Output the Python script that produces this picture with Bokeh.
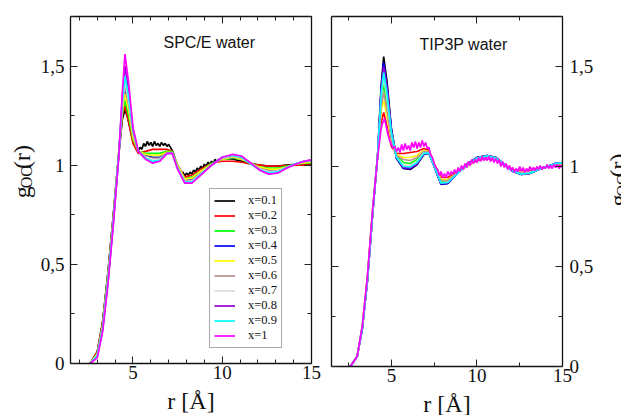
import math
from bokeh.plotting import figure
from bokeh.models import LinearAxis, FixedTicker, Range1d, Label, CustomJSTickFormatter
from bokeh.core.properties import value
from bokeh.layouts import row
from bokeh.embed import file_html
from bokeh.resources import INLINE

# ---------------- data ----------------
r_grid = [2.6, 3.0, 3.3, 3.6, 3.9, 4.2, 4.4, 4.55, 4.75, 5.0, 5.3, 5.7, 6.1, 6.5, 6.9, 7.2,
          7.5, 7.9, 8.3, 8.8, 9.4, 10.0, 10.6, 11.1, 11.6, 12.1, 12.6, 13.1, 13.6, 14.1, 14.6, 15.0]

series_labels = ["x=0.1", "x=0.2", "x=0.3", "x=0.4", "x=0.5", "x=0.6", "x=0.7", "x=0.8", "x=0.9", "x=1"]
series_colors = ["#000000", "#ff0000", "#00ff00", "#0000ff", "#ffff00", "#bc8f8f", "#dcdcdc", "#9400d3", "#00ffff", "#ff00ff"]

# SPC/E water  g_OO(r)   (x=0.1 is noisy, read on a finer r grid)
spce_x01_r = [2.6, 3.0, 3.3, 3.6, 3.9, 4.2, 4.4, 4.55, 4.7, 4.8,
              4.9, 5.0, 5.1, 5.2, 5.3, 5.4, 5.5, 5.6, 5.7, 5.8, 5.9, 6.0, 6.1, 6.2, 6.3, 6.4, 6.5,
              6.6, 6.7, 6.8, 6.9, 7.0, 7.1, 7.2, 7.3, 7.4, 7.5, 7.6, 7.7, 7.8, 7.9, 8.0, 8.1, 8.2,
              8.3, 8.4, 8.5, 8.6, 8.7, 8.8, 8.9, 9.0, 9.1, 9.2, 9.3, 9.4, 9.5, 9.6, 9.7, 9.8, 9.9,
              10.0, 10.6, 11.1, 11.6, 12.1, 12.6, 13.1, 13.6, 14.1, 14.6, 15.0]
spce_x01 = [0, 0.06, 0.21, 0.46, 0.75, 1.05, 1.23, 1.28, 1.24, 1.20,
            1.16, 1.13, 1.10, 1.08, 1.075, 1.09, 1.08, 1.11, 1.095, 1.12, 1.10, 1.115, 1.095, 1.12, 1.10, 1.11, 1.095,
            1.115, 1.10, 1.11, 1.095, 1.105, 1.09, 1.075, 1.05, 1.02, 1.0, 0.985, 0.96, 0.965, 0.945, 0.96, 0.95, 0.965,
            0.955, 0.975, 0.965, 0.985, 0.975, 0.995, 0.985, 1.005, 0.995, 1.015, 1.005, 1.02, 1.01, 1.03, 1.015, 1.03, 1.02,
            1.035, 1.03, 1.02, 1.01, 1.0, 0.995, 0.995, 1.0, 1.005, 1.005, 1.005]
spce_x02 = [0, 0.06, 0.21, 0.46, 0.75, 1.06, 1.25, 1.30, 1.22, 1.11, 1.06, 1.07, 1.08, 1.08, 1.08, 1.07,
            1.0, 0.94, 0.95, 0.98, 1.01, 1.02, 1.02, 1.015, 1.005, 1.0, 0.995, 0.995, 0.998, 1.0, 1.0, 1.0]
spce_x03 = [0, 0.05, 0.2, 0.45, 0.74, 1.06, 1.26, 1.33, 1.25, 1.13, 1.07, 1.06, 1.06, 1.06, 1.07, 1.07,
            1.0, 0.93, 0.94, 0.97, 1.01, 1.03, 1.035, 1.03, 1.01, 0.99, 0.985, 0.985, 0.995, 1.005, 1.01, 1.012]
spce_x04 = [0, 0.05, 0.19, 0.44, 0.73, 1.05, 1.28, 1.38, 1.29, 1.15, 1.07, 1.05, 1.04, 1.04, 1.06, 1.065,
            0.995, 0.925, 0.93, 0.965, 1.005, 1.035, 1.04, 1.035, 1.01, 0.985, 0.975, 0.978, 0.99, 1.005, 1.015, 1.018]
spce_x05 = [0, 0.05, 0.19, 0.44, 0.73, 1.05, 1.27, 1.36, 1.28, 1.14, 1.07, 1.055, 1.05, 1.05, 1.065, 1.065,
            1.0, 0.93, 0.935, 0.97, 1.005, 1.03, 1.04, 1.03, 1.01, 0.99, 0.98, 0.98, 0.99, 1.005, 1.012, 1.015]
spce_x06 = [0, 0.04, 0.18, 0.43, 0.72, 1.05, 1.30, 1.40, 1.31, 1.16, 1.07, 1.045, 1.035, 1.035, 1.06, 1.062,
            0.99, 0.92, 0.925, 0.96, 1.0, 1.035, 1.045, 1.035, 1.01, 0.983, 0.97, 0.972, 0.99, 1.005, 1.018, 1.02]
spce_x07 = [0, 0.04, 0.18, 0.42, 0.72, 1.05, 1.31, 1.43, 1.33, 1.17, 1.07, 1.04, 1.03, 1.03, 1.06, 1.062,
            0.99, 0.918, 0.92, 0.958, 1.0, 1.037, 1.048, 1.038, 1.008, 0.98, 0.967, 0.97, 0.988, 1.007, 1.02, 1.022]
spce_x08 = [0, 0.035, 0.17, 0.41, 0.71, 1.04, 1.34, 1.50, 1.38, 1.18, 1.07, 1.035, 1.015, 1.022, 1.06, 1.06,
            0.983, 0.912, 0.912, 0.952, 1.0, 1.04, 1.052, 1.042, 1.008, 0.976, 0.958, 0.963, 0.986, 1.006, 1.021, 1.026]
spce_x09 = [0, 0.04, 0.17, 0.42, 0.71, 1.05, 1.32, 1.45, 1.35, 1.18, 1.07, 1.035, 1.02, 1.025, 1.06, 1.06,
            0.985, 0.915, 0.915, 0.955, 1.0, 1.04, 1.05, 1.04, 1.005, 0.977, 0.962, 0.966, 0.987, 1.007, 1.02, 1.025]
spce_x10 = [0, 0.03, 0.16, 0.40, 0.70, 1.04, 1.36, 1.56, 1.42, 1.19, 1.07, 1.03, 1.01, 1.02, 1.06, 1.06,
            0.98, 0.91, 0.91, 0.95, 1.0, 1.04, 1.055, 1.045, 1.01, 0.975, 0.955, 0.96, 0.985, 1.005, 1.02, 1.027]

# TIP3P water  g_OO(r)   (x=1 is noisy, read on a finer r grid)
tip3p_x01 = [0, 0.05, 0.19, 0.43, 0.76, 1.06, 1.40, 1.55, 1.42, 1.19, 1.04, 0.99, 0.985, 1.01, 1.06, 1.065,
             1.0, 0.91, 0.915, 0.96, 1.01, 1.045, 1.055, 1.045, 1.01, 0.975, 0.96, 0.965, 0.985, 1.0, 1.012, 1.02]
tip3p_x02 = [0, 0.05, 0.2, 0.45, 0.78, 1.06, 1.22, 1.27, 1.2, 1.1, 1.065, 1.065, 1.07, 1.075, 1.09, 1.08,
             1.015, 0.945, 0.945, 0.97, 1.0, 1.03, 1.04, 1.032, 1.01, 0.985, 0.978, 0.98, 0.99, 1.0, 1.005, 1.008]
tip3p_x03 = [0, 0.05, 0.2, 0.44, 0.77, 1.06, 1.32, 1.41, 1.31, 1.14, 1.05, 1.02, 1.015, 1.035, 1.07, 1.07,
             1.005, 0.925, 0.927, 0.962, 1.005, 1.04, 1.05, 1.04, 1.01, 0.979, 0.966, 0.97, 0.986, 1.0, 1.012, 1.016]
tip3p_x04 = [0, 0.05, 0.19, 0.43, 0.76, 1.06, 1.39, 1.52, 1.40, 1.185, 1.04, 0.992, 0.988, 1.012, 1.062, 1.066,
             1.0, 0.912, 0.916, 0.96, 1.009, 1.045, 1.055, 1.045, 1.01, 0.975, 0.96, 0.965, 0.985, 1.0, 1.016, 1.02]
tip3p_x05 = [0, 0.05, 0.2, 0.44, 0.77, 1.06, 1.28, 1.33, 1.25, 1.12, 1.06, 1.045, 1.045, 1.055, 1.08, 1.075,
             1.01, 0.935, 0.935, 0.965, 1.0, 1.035, 1.045, 1.035, 1.01, 0.982, 0.972, 0.975, 0.988, 1.0, 1.008, 1.012]
tip3p_x06 = [0, 0.05, 0.2, 0.44, 0.77, 1.06, 1.30, 1.37, 1.28, 1.13, 1.055, 1.035, 1.03, 1.045, 1.075, 1.072,
             1.008, 0.93, 0.93, 0.963, 1.003, 1.037, 1.047, 1.037, 1.01, 0.98, 0.969, 0.972, 0.987, 1.0, 1.01, 1.014]
tip3p_x07 = [0, 0.05, 0.19, 0.44, 0.77, 1.06, 1.34, 1.45, 1.34, 1.16, 1.045, 1.01, 1.005, 1.025, 1.068, 1.068,
             1.003, 0.92, 0.922, 0.961, 1.006, 1.042, 1.052, 1.042, 1.01, 0.977, 0.964, 0.968, 0.986, 1.0, 1.014, 1.018]
tip3p_x08 = [0, 0.05, 0.19, 0.43, 0.76, 1.06, 1.38, 1.50, 1.39, 1.18, 1.042, 0.995, 0.992, 1.015, 1.064, 1.066,
             1.001, 0.914, 0.918, 0.96, 1.008, 1.044, 1.054, 1.044, 1.01, 0.976, 0.961, 0.966, 0.985, 1.0, 1.016, 1.02]
tip3p_x09 = [0, 0.05, 0.19, 0.43, 0.76, 1.06, 1.36, 1.47, 1.36, 1.17, 1.045, 1.0, 0.998, 1.02, 1.066, 1.067,
             1.002, 0.917, 0.92, 0.96, 1.007, 1.043, 1.053, 1.043, 1.01, 0.977, 0.962, 0.967, 0.985, 1.0, 1.015, 1.019]
tip3p_x10_r = [2.6, 3.0, 3.3, 3.6, 3.9, 4.2, 4.4, 4.5, 4.6, 4.7, 4.8,
               4.9, 5.0, 5.1, 5.2, 5.3, 5.4, 5.5, 5.6, 5.7, 5.8, 5.9, 6.0, 6.1, 6.2, 6.3, 6.4, 6.5,
               6.6, 6.7, 6.8, 6.9, 7.0, 7.1, 7.2, 7.3, 7.4, 7.5, 7.6, 7.7, 7.8, 7.9, 8.0, 8.1, 8.2,
               8.3, 8.4, 8.5, 8.6, 8.7, 8.8, 8.9, 9.0, 9.1, 9.2, 9.3, 9.4, 9.5, 9.6, 9.7, 9.8, 9.9,
               10.0, 10.1, 10.2, 10.3, 10.4, 10.5, 10.6, 10.7, 10.8, 10.9, 11.0, 11.1, 11.2, 11.3,
               11.4, 11.5, 11.6, 11.7, 11.8, 11.9, 12.0, 12.1, 12.2, 12.3, 12.4, 12.5, 12.6, 12.7,
               12.8, 12.9, 13.0, 13.1, 13.2, 13.3, 13.4, 13.5, 13.6, 13.7, 13.8, 13.9, 14.0, 14.1,
               14.2, 14.3, 14.4, 14.5, 14.6, 14.7, 14.8, 14.9, 15.0]
tip3p_x10 = [0, 0.05, 0.2, 0.45, 0.78, 1.05, 1.19, 1.22, 1.24, 1.20, 1.16,
             1.13, 1.11, 1.09, 1.10, 1.075, 1.095, 1.07, 1.11, 1.08, 1.115, 1.085, 1.105, 1.08, 1.12, 1.095, 1.125, 1.09,
             1.12, 1.095, 1.13, 1.10, 1.12, 1.09, 1.095, 1.055, 1.045, 1.015, 0.995, 0.985, 0.955, 0.975, 0.945, 0.965, 0.945,
             0.975, 0.955, 0.975, 0.96, 0.985, 0.965, 0.995, 0.975, 1.005, 0.985, 1.015, 0.995, 1.025, 1.005, 1.035, 1.015, 1.035,
             1.02, 1.045, 1.025, 1.05, 1.03, 1.045, 1.03, 1.05, 1.025, 1.045, 1.02, 1.04, 1.015, 1.035,
             1.0, 1.025, 0.995, 1.015, 0.985, 1.005, 0.98, 0.995, 0.97, 0.99, 0.975, 1.0, 0.975, 0.995,
             0.97, 0.99, 0.975, 1.0, 0.98, 0.995, 0.98, 1.0, 0.985, 1.005, 0.985, 1.0, 0.99, 1.01,
             0.99, 1.005, 0.99, 1.01, 0.995, 1.01, 0.99, 1.005, 0.995]

spce_r = [spce_x01_r] + [r_grid] * 9
spce_series = [spce_x01, spce_x02, spce_x03, spce_x04, spce_x05, spce_x06, spce_x07, spce_x08, spce_x09, spce_x10]
tip3p_r = [r_grid] * 9 + [tip3p_x10_r]
tip3p_series = [tip3p_x01, tip3p_x02, tip3p_x03, tip3p_x04, tip3p_x05, tip3p_x06, tip3p_x07, tip3p_x08, tip3p_x09, tip3p_x10]

x_major = [5, 10, 15]
y_major = [0, 0.5, 1, 1.5]
y_minor = [0, 0.25, 0.5, 0.75, 1.0, 1.25, 1.5, 1.75]
spce_x_minor = [2, 3, 4, 5, 6, 7, 8, 9, 10, 11, 12, 13, 14, 15]
tip3p_x_minor = [2.5, 5, 7.5, 10, 12.5, 15]

SERIF = "Liberation Serif"
SANS = "Liberation Sans"
XMIN, XMAX, YMIN, YMAX = 1.5, 15, 0, 1.75
H = 415

comma_fmt = CustomJSTickFormatter(code="return tick.toString().replace('.', ',');")


def style_axis(ax, show_labels):
    ax.axis_line_color = "#111111"
    ax.axis_line_width = 1.3
    ax.major_tick_in = 7
    ax.major_tick_out = 0
    ax.minor_tick_in = 4
    ax.minor_tick_out = 0
    ax.major_tick_line_color = "#222222"
    ax.minor_tick_line_color = "#222222"
    ax.major_tick_line_width = 1
    ax.minor_tick_line_width = 1
    ax.major_label_text_font = SERIF
    ax.major_label_text_font_size = "19px"
    ax.major_label_text_color = "#111111"
    if not show_labels:
        ax.major_label_text_font_size = "0px"
        ax.major_label_standoff = 0


def make_panel(fw, fh, mb_l, mb_r, mb_t, mb_b, x_minor, label_side):
    p = figure(frame_width=fw, frame_height=fh, x_range=Range1d(XMIN, XMAX), y_range=Range1d(YMIN, YMAX),
               output_backend="svg", toolbar_location=None, x_axis_location=None, y_axis_location=None,
               min_border_left=mb_l, min_border_right=mb_r, min_border_top=mb_t, min_border_bottom=mb_b)
    p.xgrid.visible = False
    p.ygrid.visible = False
    p.outline_line_color = None
    p.background_fill_color = "white"
    p.border_fill_color = "white"

    xb = LinearAxis(ticker=FixedTicker(ticks=x_major, minor_ticks=x_minor), axis_label="r [Å]")
    style_axis(xb, True)
    xb.major_label_standoff = 2
    xb.axis_label_text_font = SERIF
    xb.axis_label_text_font_style = "normal"
    xb.axis_label_text_font_size = "24px"
    xb.axis_label_text_color = "#111111"
    xb.axis_label_standoff = 6
    p.add_layout(xb, "below")

    xt = LinearAxis(ticker=FixedTicker(ticks=x_major, minor_ticks=x_minor))
    style_axis(xt, False)
    p.add_layout(xt, "above")

    yl = LinearAxis(ticker=FixedTicker(ticks=y_major, minor_ticks=y_minor), formatter=comma_fmt)
    yr = LinearAxis(ticker=FixedTicker(ticks=y_major, minor_ticks=y_minor), formatter=comma_fmt)
    style_axis(yl, label_side == "left")
    style_axis(yr, label_side == "right")
    if label_side == "left":
        yl.major_label_standoff = 6
    else:
        yr.major_label_standoff = 7
    p.add_layout(yl, "left")
    p.add_layout(yr, "right")
    return p


def ylabel_fig(width, base_px, bottom_px):
    """A narrow text-only strip holding the rotated y-axis title g_OO(r)."""
    f = figure(width=width, height=H, x_range=Range1d(0, width), y_range=Range1d(0, H),
               output_backend="svg", toolbar_location=None, x_axis_location=None, y_axis_location=None,
               min_border=0)
    f.xgrid.visible = False
    f.ygrid.visible = False
    f.outline_line_color = None
    f.background_fill_color = "white"
    f.border_fill_color = "white"
    parts = [("g", 0, 0, "24px"), ("OO", 5, 12, "16px"), ("(r)", 0, 35, "24px")]
    for txt, dxp, dyp, fs in parts:
        f.text(x=[base_px + dxp], y=[H - (bottom_px - dyp)], text=[txt], angle=math.pi / 2,
               text_font=value(SERIF), text_font_size=value(fs), text_color="#111111",
               text_align="left", text_baseline="alphabetic")
    return f


# ---------------- left panel: SPC/E ----------------
LW = 36
left = make_panel(241, 347, 70 - LW, 10, 16, 52, spce_x_minor, "left")
for rr, vals, col, lab in zip(spce_r, spce_series, series_colors, series_labels):
    left.line(rr, vals, line_color=col, line_width=1.7, legend_label=lab)
left.add_layout(Label(x=XMIN + (163 - 70) / (241 / 13.5), y=(363 - 42) / (347 / 1.75), text="SPC/E water",
                      text_font=SANS, text_font_size="16px", text_color="#111111",
                      text_align="left", text_baseline="middle"))

leg = left.legend[0]
leg.location = (139, 15)
leg.padding = 4
leg.spacing = 0
leg.margin = 0
leg.glyph_width = 21
leg.glyph_height = 15
leg.label_height = 15
leg.label_standoff = 13
leg.label_text_font = SERIF
leg.label_text_font_size = "12.5px"
leg.label_text_color = "#111111"
leg.border_line_color = "#555555"
leg.border_line_width = 1
leg.background_fill_color = "white"
leg.background_fill_alpha = 1

# ---------------- right panel: TIP3P ----------------
RW = 21
right = make_panel(231, 350, 10, 600 - 562, 14, 51, tip3p_x_minor, "right")
for rr, vals, col in zip(tip3p_r, tip3p_series, series_colors):
    right.line(rr, vals, line_color=col, line_width=1.7)
right.add_layout(Label(x=XMIN + (419 - 331) / (231 / 13.5), y=(364 - 42) / 200.0, text="TIP3P water",
                       text_font=SANS, text_font_size="16px", text_color="#111111",
                       text_align="left", text_baseline="middle"))

lab_left = ylabel_fig(LW, 21, 218)
lab_right = ylabel_fig(RW, 617 - 600, 228)

layout = row(lab_left, left, right, lab_right, spacing=0)
open("out.html", "w").write(file_html(layout, INLINE))
